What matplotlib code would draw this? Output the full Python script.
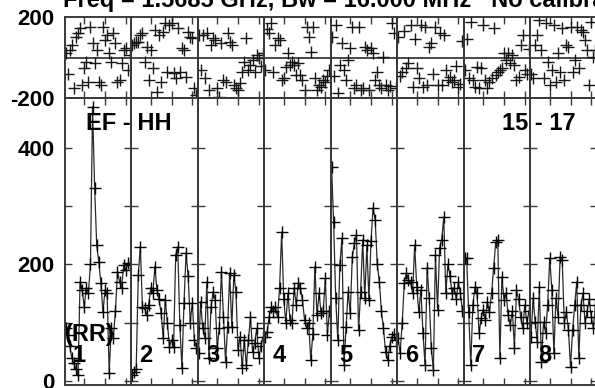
import matplotlib
matplotlib.use("Agg")
import matplotlib.pyplot as plt
import numpy as np

plt.rcParams['font.family'] = ['Liberation Sans', 'DejaVu Sans']

# ---------------- data ----------------
title = "Freq = 1.5685 GHz, Bw = 16.000 MHz   No calibration"
baseline_label = "EF - HH"
time_label = "15 - 17"
pol_label = "(RR)"
segment_labels = ["1", "2", "3", "4", "5", "6", "7", "8"]
channels = np.arange(1, 33)

amp_1 = [90, 79, 60, 40, 30, 20, 10, 170, 156, 127, 160, 150, 200, 470, 331, 233,
         204, 168, 118, 156, 150, 14, 91, 74, 120, 187, 170, 160, 199, 190, 202, 200]
amp_2 = [10, 15, 20, 182, 230, 127, 125, 113, 130, 160, 150, 196, 156, 140, 116, 74,
         139, 100, 59, 70, 59, 216, 230, 96, 22, 134, 219, 180, 100, 134, 70, 57]
amp_3 = [48, 136, 91, 74, 170, 39, 127, 153, 139, 57, 91, 187, 110, 33, 93, 185,
         93, 182, 153, 53, 76, 22, 70, 27, 70, 110, 50, 65, 90, 40, 60, 75]
amp_4 = [76, 84, 110, 127, 120, 127, 110, 160, 255, 140, 100, 150, 105, 100, 160, 130,
         168, 160, 139, 105, 91, 100, 36, 80, 196, 113, 150, 116, 120, 176, 79, 120]
amp_5 = [367, 273, 142, 70, 199, 245, 27, 93, 153, 116, 213, 237, 250, 87, 153, 242,
         142, 233, 139, 240, 297, 276, 200, 170, 120, 90, 50, 36, 60, 76, 80, 70]
amp_6 = [74, 48, 99, 168, 185, 173, 170, 150, 233, 161, 118, 156, 82, 27, 194, 142,
         57, 19, 216, 122, 228, 242, 281, 150, 200, 180, 150, 160, 140, 170, 150, 120]
amp_7 = [211, 211, 118, 27, 130, 161, 150, 82, 108, 122, 105, 136, 118, 150, 194, 238,
         242, 39, 178, 139, 150, 113, 96, 120, 57, 156, 140, 110, 90, 130, 100, 120]
amp_8 = [76, 142, 101, 67, 161, 33, 101, 82, 130, 211, 156, 48, 142, 110, 213, 208,
         99, 118, 87, 24, 87, 130, 170, 39, 130, 150, 100, 120, 140, 110, 90, 130]

phase_1 = [20, -80, 37, 62, -151, 101, 121, 146, -136, -52, -22, -121, 151, 72, -27, 37,
           -121, -136, 151, 86, 111, 22, -22, 121, 72, -121, -111, -27, 37, 47, -60, 10]
phase_2 = [60, 72, 77, 77, 111, 121, -22, 52, -111, 37, -52, 136, -170, 111, -121, 126,
           170, -72, 160, 170, -77, -101, 146, -72, 47, 37, -96, 126, 101, 96, -151, -185]
phase_3 = [111, -62, 111, -101, 121, -161, 62, 96, 86, -151, -195, 72, -111, -121, 121, 77,
           62, -136, -151, -161, -126, -72, -22, 96, -62, -37, -12, -72, 12, -2, -40, 20]
phase_4 = [-60, 140, 121, 170, -72, 62, 96, 86, -111, -101, -47, 22, -37, -22, -37, -86,
           -27, -86, -111, -161, 151, 101, 27, 151, -101, -161, -136, -146, -111, -121, -90, -60]
phase_5 = [100, -90, 160, -176, -37, 72, -62, -111, -12, 47, 151, -151, -136, 151, -161, -151,
           52, 37, -161, 47, 22, -111, -72, -136, -151, 2, -136, -161, -140, 170, 120, -150]
phase_6 = [100, -90, -72, 130, -52, -27, 160, -146, 90, -52, -100, 160, -146, 151, -136, 52,
           72, -80, 151, -136, 120, -136, 111, -62, -110, -96, -121, -111, -40, -146, -130, 80]
phase_7 = [-60, 90, -101, 175, -111, -146, -47, -151, -52, 160, -111, -151, -120, -101, 146, -86,
           -72, -60, -52, 22, -12, 22, -27, 12, -37, -111, -96, 60, 111, -62, -80, 40]
phase_8 = [-80, -101, 60, 111, 185, 37, -101, 170, -22, -136, -62, 160, -121, 22, -72, 146,
           -111, 62, 52, 151, -72, -12, 151, -52, 136, 126, 86, 37, -136, 175, 2, 37]

amps = [amp_1, amp_2, amp_3, amp_4, amp_5, amp_6, amp_7, amp_8]
phases = [phase_1, phase_2, phase_3, phase_4, phase_5, phase_6, phase_7, phase_8]

amp_ticks = [0, 100, 200, 300, 400]
amp_ticklabels = ["0", "", "200", "", "400"]
phase_ticks = [-200, 200]
phase_ticklabels = ["-200", "200"]
chan_ticks = [10, 20, 30]

# ---------------- layout ----------------
W, H = 595, 388
fig = plt.figure(figsize=(W / 100, H / 100), dpi=100)
fig.patch.set_facecolor("white")

x0 = 64.5
segw = 66.5
ph_top, ph_bot = 17, 98
am_top, am_bot = 98, 385

frame_col = "#3a3a3a"
fs = 16
fs_txt = 17

def style(ax):
    for s in ax.spines.values():
        s.set_linewidth(1.4)
        s.set_color(frame_col)
    ax.tick_params(direction="in", length=5, width=1.0, color=frame_col,
                   top=True, bottom=True, left=True, right=True,
                   labelbottom=False, labeltop=False, labelleft=False, labelright=False)
    ax.set_xlim(0.5, 32.5)
    ax.set_xticks(chan_ticks)
    ax.set_facecolor("none")

for i in range(8):
    left = (x0 + i * segw) / W
    # phase panel
    axp = fig.add_axes([left, 1 - ph_bot / H, segw / W, (ph_bot - ph_top) / H])
    style(axp)
    axp.set_ylim(-200, 200)
    axp.axhline(0, color=frame_col, lw=1.3)
    axp.plot(channels, phases[i], linestyle="none", marker="+", ms=8.5, mew=1.0,
             color="#151515", clip_on=True)
    axp.set_yticks(phase_ticks)
    axp.tick_params(axis="y", length=0)
    if i == 0:
        axp.set_yticklabels(phase_ticklabels, fontsize=fs, fontweight="bold")
        axp.tick_params(axis="y", labelleft=True, pad=7)
    # amplitude panel
    axa = fig.add_axes([left, 1 - am_bot / H, segw / W, (am_bot - am_top) / H])
    style(axa)
    axa.set_ylim(-6.9, 485)
    axa.plot(channels, amps[i], color="#2a2a2a", lw=0.9, marker="+", ms=8.5,
             mew=1.0, mec="#000000")
    axa.set_yticks(amp_ticks)
    if i == 0:
        axa.set_yticklabels(amp_ticklabels, fontsize=fs, fontweight="bold")
        axa.tick_params(axis="y", labelleft=True, pad=7)
    fig.text((x0 + i * segw + 8.5) / W, 1 - 355.5 / H, segment_labels[i],
             fontsize=fs_txt, fontweight="bold", ha="left", va="center")

fig.text(63 / W, 1 - 7.5 / H, title, fontsize=17, fontweight="bold",
         ha="left", va="baseline")
fig.text(86.5 / W, 1 - 123.5 / H, baseline_label, fontsize=fs_txt, fontweight="bold",
         ha="left", va="center")
fig.text(502 / W, 1 - 123.5 / H, time_label, fontsize=fs_txt, fontweight="bold",
         ha="left", va="center")
fig.text(65 / W, 1 - 334 / H, pol_label, fontsize=fs_txt, fontweight="bold",
         ha="left", va="center")

fig.savefig("out.png", dpi=100, facecolor="white")
